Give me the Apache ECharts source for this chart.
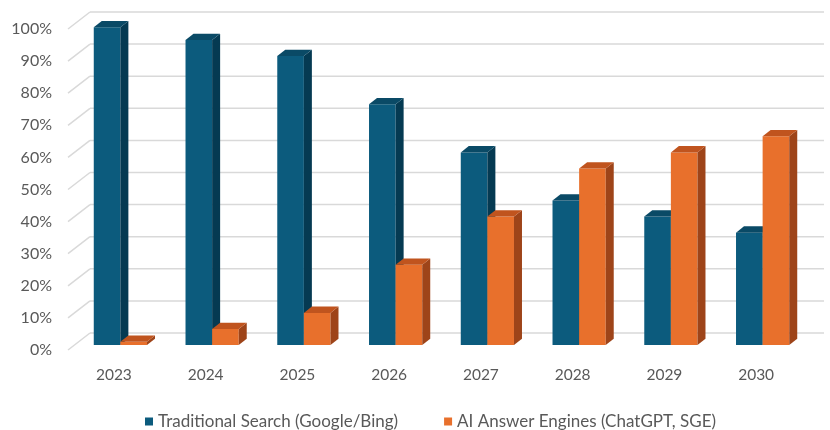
<!DOCTYPE html>
<html>
<head>
<meta charset="utf-8">
<script src="https://cdn.jsdelivr.net/npm/echarts@6/dist/echarts.min.js"></script>
<style>
  html, body { margin: 0; padding: 0; background: #fff; }
  #chart { width: 830px; height: 430px; }
</style>
</head>
<body>
<div id="chart"></div>
<script>
// 数据
const years = ['2023', '2024', '2025', '2026', '2027', '2028', '2029', '2030'];
const traditional = [99, 95, 90, 75, 60, 45, 40, 35];
const aiEngines = [1, 5, 10, 25, 40, 55, 60, 65];
const yTicks = [0, 10, 20, 30, 40, 50, 60, 70, 80, 90, 100];

// 伪 3D 的偏移
const wallDx = 22, wallDy = -17;   // 背墙
const barDx = 6.5, barDy = -5;     // 柱子所在深度
const depthX = 8, depthY = -6.3;   // 柱子厚度

const chart = echarts.init(document.getElementById('chart'));

function wallItem(params, api) {
  const cs = params.coordSys;
  const y = api.coord([0, api.value(0)])[1];
  const style = { stroke: '#d9d9d9', lineWidth: 1.5 };
  return {
    type: 'group',
    children: [
      { type: 'line', shape: { x1: cs.x, y1: y, x2: cs.x + wallDx, y2: y + wallDy }, style: style },
      { type: 'line', shape: { x1: cs.x + wallDx, y1: y + wallDy, x2: cs.x + cs.width + wallDx, y2: y + wallDy }, style: style }
    ]
  };
}

function barRender(side, colors) {
  return function (params, api) {
    const idx = api.value(0);
    const base = api.coord([idx, 0]);
    const top = api.coord([idx, api.value(1)]);
    const w = api.size([1, 0])[0] * 0.29;
    const x0 = (side === 0 ? base[0] - w : base[0]) + barDx;
    const x1 = x0 + w;
    const yb = base[1] + barDy;
    const yt = top[1] + barDy;
    return {
      type: 'group',
      children: [
        { type: 'rect', shape: { x: x0, y: yt, width: w, height: yb - yt }, style: { fill: colors[0] } },
        { type: 'polygon', shape: { points: [[x1, yb], [x1, yt], [x1 + depthX, yt + depthY], [x1 + depthX, yb + depthY]] }, style: { fill: colors[1] } },
        { type: 'polygon', shape: { points: [[x0, yt], [x1, yt], [x1 + depthX, yt + depthY], [x0 + depthX, yt + depthY]] }, style: { fill: colors[2] } }
      ]
    };
  };
}

const option = {
  animation: false,
  textStyle: { fontFamily: 'Lato' },
  grid: { left: 68, right: 28, top: 29, bottom: 80 },
  legend: {
    top: 408,
    left: 140,
    icon: 'rect',
    itemWidth: 8,
    itemHeight: 8,
    itemGap: 46,
    textStyle: { color: '#595959', fontSize: 17, fontFamily: 'Lato' },
    data: ['Traditional Search (Google/Bing)', 'AI Answer Engines (ChatGPT, SGE)']
  },
  xAxis: {
    type: 'category',
    data: years,
    axisLine: { show: false },
    axisTick: { show: false },
    axisLabel: { color: '#595959', fontSize: 15.5, margin: 17 }
  },
  yAxis: {
    type: 'value',
    min: 0,
    max: 100,
    interval: 10,
    splitLine: { show: false },
    axisLine: { show: false },
    axisLabel: { color: '#595959', fontSize: 16, margin: 16, formatter: '{value}%' }
  },
  series: [
    {
      name: 'wall',
      type: 'custom',
      data: yTicks.map(v => [v]),
      encode: { y: 0 },
      renderItem: wallItem,
      silent: true,
      z: 1
    },
    {
      name: 'Traditional Search (Google/Bing)',
      type: 'custom',
      itemStyle: { color: '#0c5b7d' },
      data: traditional.map((v, i) => [i, v]),
      encode: { x: 0, y: 1 },
      renderItem: barRender(0, ['#0c5b7d', '#053a52', '#0a4a66']),
      z: 2
    },
    {
      name: 'AI Answer Engines (ChatGPT, SGE)',
      type: 'custom',
      itemStyle: { color: '#e8702c' },
      data: aiEngines.map((v, i) => [i, v]),
      encode: { x: 0, y: 1 },
      renderItem: barRender(1, ['#e8702c', '#9e4419', '#c0541e']),
      z: 3
    }
  ]
};

chart.setOption(option);
</script>
</body>
</html>
